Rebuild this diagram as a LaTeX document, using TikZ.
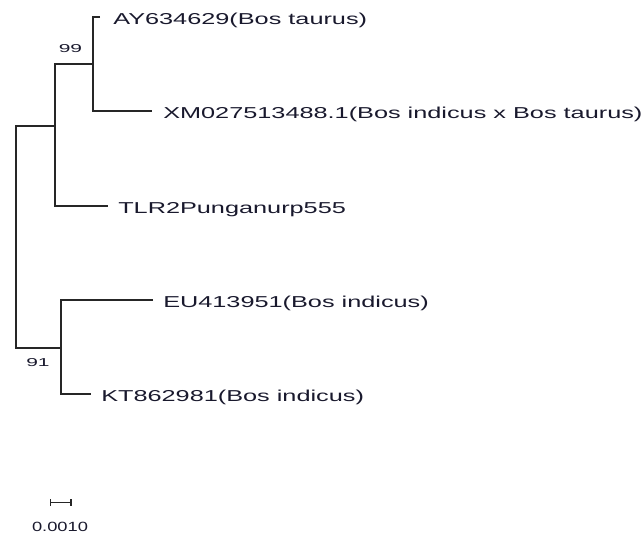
\documentclass[tikz,border=0pt]{standalone}
\usepackage{fontspec}
\setmainfont{Liberation Sans}
\usetikzlibrary{arrows.meta}
\definecolor{txt}{RGB}{25,25,45}
\begin{document}
\begin{tikzpicture}[x=0.75pt,y=-0.75pt,
  br/.style={line width=0.85pt, draw=black!85},
  leaf/.style={anchor=base west, inner sep=0pt, text=txt, font=\fontsize{11.85pt}{14pt}\selectfont},
  boot/.style={anchor=center, inner sep=0pt, text=txt}]
\useasboundingbox (0,0) rectangle (644,537);
% internal nodes
\coordinate (R) at (16,348);
\coordinate (A) at (55,126);
\coordinate (B) at (93,64);
\coordinate (C) at (61,348);
% tips
\coordinate (tAY) at (100,17);
\coordinate (tXM) at (152,111);
\coordinate (tTLR) at (108,206);
\coordinate (tEU) at (153,300);
\coordinate (tKT) at (91,394);
% branches
\draw[br] (tAY) -| (B) |- (tXM);
\draw[br] (B) -| (A) |- (tTLR);
\draw[br] (A) -| (R) -- (C);
\draw[br] (tEU) -| (C) |- (tKT);
% labels
\node[leaf] (lAY) at (113,24.5) {\scalebox{1.6}[1]{AY634629(Bos taurus)}};
\node[leaf] (lXM) at (163,118.5) {\scalebox{1.6}[1]{XM027513488.1(Bos indicus x Bos taurus)}};
\node[leaf] (lTLR) at (118,213.5) {\scalebox{1.6}[1]{TLR2Punganurp555}};
\node[leaf] (lEU) at (163,307.5) {\scalebox{1.6}[1]{EU413951(Bos indicus)}};
\node[leaf] (lKT) at (101,401.5) {\scalebox{1.6}[1]{KT862981(Bos indicus)}};
% bootstrap values
\node[boot] (b99) at (70.5,49) {\resizebox{17.5pt}{6pt}{99}};
\node[boot] (b91) at (38,363) {\resizebox{17.5pt}{6pt}{91}};
% scale bar
\coordinate (s1) at (50,502.5);
\coordinate (s2) at (71.5,502.5);
\draw[br, {Bar[width=5.25pt]}-{Bar[width=5.25pt]}] (s1) -- (s2);
\node[boot] (sbl) at (60,527) {\resizebox{42pt}{7pt}{0.0010}};
\end{tikzpicture}
\end{document}
